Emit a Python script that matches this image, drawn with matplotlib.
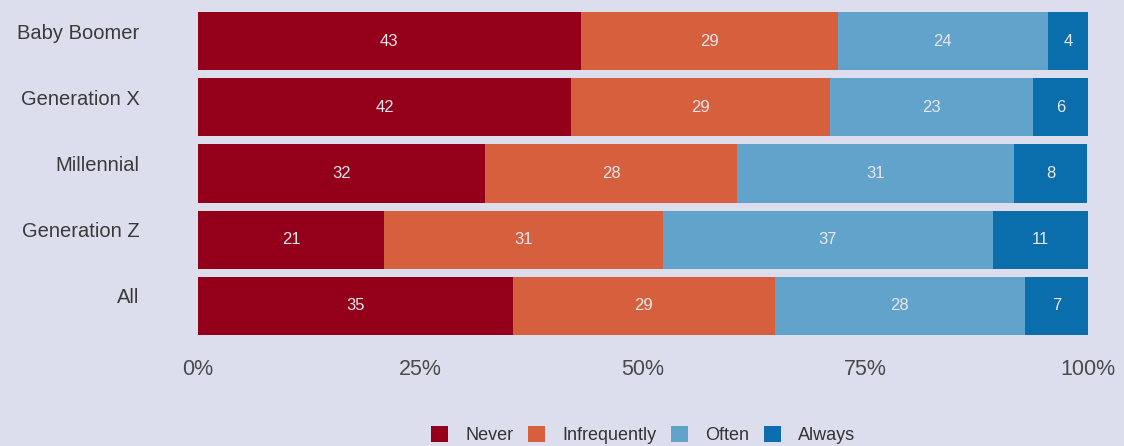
import matplotlib
matplotlib.use("Agg")
import matplotlib.pyplot as plt
import numpy as np

plt.rcParams['font.family'] = ['Liberation Sans', 'DejaVu Sans']

categories = ["Baby Boomer", "Generation X", "Millennial", "Generation Z", "All"]
series_names = ["Never", "Infrequently", "Often", "Always"]
never = [43.0, 41.9, 32.2, 20.9, 35.4]
infrequently = [28.9, 29.1, 28.4, 31.3, 29.4]
often = [23.6, 22.8, 31.1, 37.1, 28.1]
always = [4.5, 6.2, 8.2, 10.7, 7.1]
labels_never = [43, 42, 32, 21, 35]
labels_infrequently = [29, 29, 28, 31, 29]
labels_often = [24, 23, 31, 37, 28]
labels_always = [4, 6, 8, 11, 7]
xticks = [0, 25, 50, 75, 100]
xticklabels = ["0%", "25%", "50%", "75%", "100%"]

colors = ["#940019", "#d6603d", "#62a3cc", "#0a6ead"]
bg = "#dcdeed"

fig = plt.figure(figsize=(11.24, 4.46), dpi=100, facecolor=bg)
ax = fig.add_axes([198/1124, 1-335/446, 890/1124, 323/446])
ax.set_facecolor(bg)

y = np.arange(len(categories))
data = [never, infrequently, often, always]
labs = [labels_never, labels_infrequently, labels_often, labels_always]
left = np.zeros(len(categories))
for vals, lab, c, name in zip(data, labs, colors, series_names):
    vals = np.array(vals)
    ax.barh(y, vals, left=left, height=0.88, color=c, label=name, linewidth=0)
    for yi, l, v, t in zip(y, left, vals, lab):
        ax.text(l + v/2, yi, str(t), ha='center', va='center', color='#ebe6ee', fontsize=12)
    left += vals

ax.set_xlim(0, 100)
ax.set_ylim(4.44, -0.44)
ax.set_yticks(y - 0.15)
ax.set_yticklabels(categories, fontsize=14.5, color='#3a3a3a')
ax.set_xticks(xticks)
ax.set_xticklabels(xticklabels, fontsize=15.5, color='#4a4a4a')
ax.tick_params(axis='y', length=0, pad=42)
ax.tick_params(axis='x', length=0, pad=17)
for s in ax.spines.values():
    s.set_visible(False)

leg = fig.legend(loc='center', bbox_to_anchor=(643/1124, 1-435/446), ncol=4, frameon=False,
                 fontsize=13, handlelength=0.95, handleheight=0.95, columnspacing=0.8,
                 handletextpad=0.95, borderpad=0)
for t in leg.get_texts():
    t.set_color('#333333')

fig.savefig("out.png", dpi=100, facecolor=bg)
